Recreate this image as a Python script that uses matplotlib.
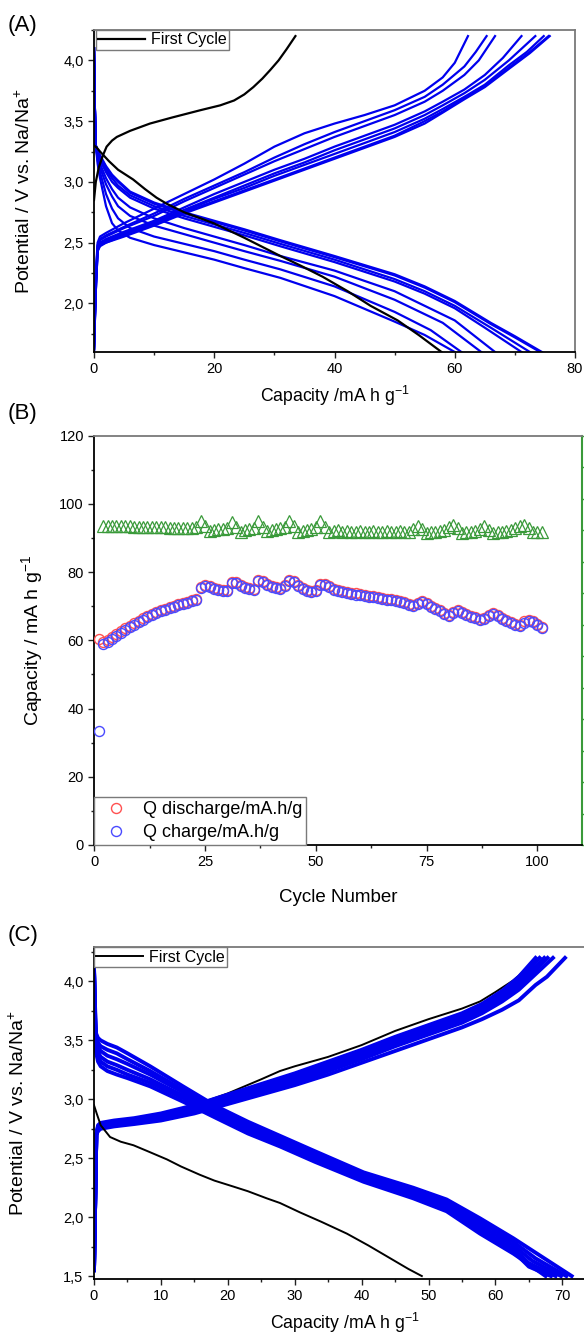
import matplotlib
matplotlib.use("Agg")
import matplotlib.pyplot as plt
from matplotlib.ticker import MultipleLocator, FuncFormatter, NullFormatter

plt.rcParams['font.family'] = ['Liberation Sans', 'DejaVu Sans']
plt.rcParams['mathtext.default'] = 'regular'

# ---------------- Panel A data ----------------
A_first_charge_cap = [0.0, 0.3, 0.8, 1.5, 2.1, 3.0, 3.8, 6.0, 9.3, 13.0, 17.7, 21.0, 23.3, 25.0, 26.5, 28.0, 29.3, 30.7, 32.0, 33.5]
A_first_charge_V = [2.85, 3.0, 3.12, 3.22, 3.29, 3.34, 3.37, 3.42, 3.48, 3.53, 3.59, 3.63, 3.67, 3.72, 3.78, 3.85, 3.92, 4.0, 4.09, 4.2]
A_first_dis_cap = [0.0, 0.5, 1.0, 2.5, 4.0, 6.5, 8.5, 10.4, 12.1, 15.0, 19.9, 25.0, 31.0, 34.4, 38.0, 42.2, 46.0, 50.5, 54.0, 57.8]
A_first_dis_V = [3.3, 3.28, 3.25, 3.17, 3.1, 3.02, 2.94, 2.87, 2.82, 2.75, 2.66, 2.54, 2.39, 2.31, 2.22, 2.1, 1.98, 1.86, 1.74, 1.6]

A_charge_cap = [0, 0.3, 0.6, 1, 2, 5, 10, 15, 20, 25, 30, 35, 40, 45, 50, 55]
A_charge_V = [
    [1.62, 2.25, 2.50, 2.55, 2.58, 2.66, 2.78, 2.90, 3.02, 3.15, 3.29, 3.40, 3.48, 3.55, 3.63, 3.75],
    [1.62, 2.20, 2.48, 2.53, 2.56, 2.63, 2.74, 2.86, 2.97, 3.08, 3.20, 3.31, 3.41, 3.50, 3.59, 3.70],
    [1.62, 2.20, 2.47, 2.52, 2.55, 2.62, 2.72, 2.84, 2.95, 3.06, 3.17, 3.27, 3.37, 3.46, 3.55, 3.66],
    [1.62, 2.15, 2.45, 2.50, 2.53, 2.59, 2.68, 2.79, 2.90, 3.00, 3.10, 3.19, 3.29, 3.38, 3.47, 3.58],
    [1.62, 2.15, 2.45, 2.50, 2.52, 2.58, 2.67, 2.77, 2.87, 2.97, 3.07, 3.16, 3.26, 3.35, 3.44, 3.55],
    [1.62, 2.10, 2.44, 2.49, 2.51, 2.57, 2.66, 2.76, 2.86, 2.95, 3.05, 3.14, 3.23, 3.32, 3.41, 3.52],
    [1.62, 2.10, 2.43, 2.48, 2.50, 2.56, 2.65, 2.75, 2.84, 2.93, 3.02, 3.11, 3.20, 3.29, 3.38, 3.50],
    [1.62, 2.10, 2.43, 2.47, 2.50, 2.55, 2.64, 2.74, 2.83, 2.92, 3.01, 3.10, 3.19, 3.28, 3.37, 3.48],
]
A_charge_tail_cap = [
    [58, 60, 62.2],
    [58, 61.6, 63.5, 65.3],
    [58, 61.6, 64, 66.7],
    [58, 61.6, 65, 68, 71.1],
    [58, 61.6, 65, 69, 73.4],
    [58, 61.6, 65, 69, 72, 74.8],
    [58, 61.6, 65, 69, 72.5, 75.6],
    [58, 61.6, 65, 69, 72.5, 75.8],
]
A_charge_tail_V = [
    [3.86, 3.98, 4.2],
    [3.80, 3.95, 4.07, 4.2],
    [3.75, 3.88, 4.0, 4.2],
    [3.66, 3.76, 3.88, 4.02, 4.2],
    [3.63, 3.73, 3.84, 4.0, 4.2],
    [3.60, 3.70, 3.80, 3.96, 4.07, 4.2],
    [3.58, 3.69, 3.79, 3.94, 4.07, 4.2],
    [3.57, 3.68, 3.78, 3.93, 4.06, 4.2],
]

A_dis_cap = [0, 0.15, 0.3, 0.6, 1, 2, 3, 4, 6, 10, 15, 20, 25, 31, 40, 50]
A_dis_V = [
    [4.1, 3.6, 3.3, 3.15, 3.03, 2.80, 2.66, 2.60, 2.54, 2.48, 2.42, 2.36, 2.29, 2.21, 2.06, 1.85],
    [4.1, 3.6, 3.3, 3.18, 3.08, 2.90, 2.78, 2.70, 2.62, 2.55, 2.49, 2.43, 2.36, 2.28, 2.14, 1.93],
    [4.1, 3.6, 3.3, 3.20, 3.12, 2.98, 2.88, 2.80, 2.72, 2.64, 2.57, 2.50, 2.43, 2.35, 2.22, 2.03],
    [4.1, 3.6, 3.3, 3.22, 3.15, 3.03, 2.94, 2.87, 2.79, 2.70, 2.62, 2.55, 2.48, 2.39, 2.27, 2.10],
    [4.1, 3.6, 3.3, 3.24, 3.18, 3.08, 3.00, 2.95, 2.87, 2.78, 2.70, 2.63, 2.56, 2.47, 2.34, 2.18],
    [4.1, 3.6, 3.3, 3.25, 3.20, 3.10, 3.03, 2.97, 2.89, 2.80, 2.72, 2.65, 2.58, 2.49, 2.36, 2.20],
    [4.1, 3.6, 3.3, 3.26, 3.21, 3.12, 3.05, 3.00, 2.91, 2.82, 2.74, 2.67, 2.60, 2.51, 2.38, 2.23],
    [4.1, 3.6, 3.3, 3.26, 3.22, 3.13, 3.06, 3.01, 2.92, 2.83, 2.75, 2.68, 2.61, 2.52, 2.39, 2.24],
]
A_dis_tail_cap = [
    [55, 60.0],
    [56, 61.1],
    [58, 64.4],
    [60, 66.7],
    [55, 60, 65, 71.1],
    [55, 60, 66, 72.5],
    [55, 60, 66, 70, 74.2],
    [55, 60, 66, 70, 74.5],
]
A_dis_tail_V = [
    [1.74, 1.6],
    [1.78, 1.6],
    [1.84, 1.6],
    [1.86, 1.6],
    [2.08, 1.96, 1.80, 1.6],
    [2.10, 1.98, 1.80, 1.6],
    [2.13, 2.01, 1.83, 1.72, 1.6],
    [2.14, 2.02, 1.84, 1.73, 1.6],
]

# ---------------- Panel B data ----------------
cycles = list(range(1, 102))
Q_discharge = [60.3, 59.6, 60.2, 61.0, 61.9, 62.7, 63.5, 64.3, 65.0, 65.7,
               66.4, 67.1, 67.7, 68.3, 68.8, 69.3, 69.7, 70.1, 70.5, 70.9,
               71.3, 71.7, 72.2, 75.7, 76.3, 75.9, 75.3, 74.9, 74.6, 74.8,
               77.0, 77.2, 76.2, 75.6, 75.3, 75.1, 77.6, 77.5, 76.6, 75.9,
               75.5, 75.4, 76.2, 77.8, 77.4, 76.3, 75.4, 74.8, 74.4, 74.6,
               76.5, 76.6, 75.8, 75.0, 74.6, 74.3, 74.1, 73.9, 73.7, 73.5,
               73.3, 73.1, 72.9, 72.6, 72.4, 72.2, 72.0, 71.7, 71.4, 71.1,
               70.7, 70.4, 71.0, 71.4, 70.8, 70.1, 69.4, 68.8, 67.9, 67.4,
               68.4, 68.9, 68.4, 67.8, 67.2, 66.7, 66.3, 66.5, 67.3, 67.9,
               67.3, 66.5, 65.9, 65.3, 64.7, 64.4, 65.5, 66.0, 65.7, 64.8,
               63.9]
Q_charge = [33.3, 58.8, 59.4, 60.3, 61.3, 62.1, 63.0, 63.8, 64.6, 65.3,
            66.0, 66.7, 67.3, 67.9, 68.5, 69.0, 69.4, 69.8, 70.2, 70.6,
            71.0, 71.4, 71.9, 75.3, 76.0, 75.6, 75.0, 74.6, 74.3, 74.5,
            76.7, 76.9, 75.9, 75.3, 75.0, 74.8, 77.3, 77.2, 76.3, 75.6,
            75.2, 75.1, 75.9, 77.5, 77.1, 76.0, 75.1, 74.5, 74.1, 74.3,
            76.2, 76.3, 75.5, 74.7, 74.3, 74.0, 73.8, 73.6, 73.4, 73.2,
            73.0, 72.8, 72.6, 72.3, 72.1, 71.9, 71.7, 71.4, 71.1, 70.8,
            70.4, 70.1, 70.7, 71.1, 70.5, 69.8, 69.1, 68.5, 67.6, 67.1,
            68.1, 68.6, 68.1, 67.5, 66.9, 66.4, 66.0, 66.2, 67.0, 67.6,
            67.0, 66.2, 65.6, 65.0, 64.4, 64.1, 65.2, 65.7, 65.4, 64.5,
            63.6]
eff_cycles = list(range(2, 102))
efficiency = [101.3, 101.4, 101.4, 101.3, 101.3, 101.2, 101.2, 101.1, 101.1, 101.0,
              101.0, 100.9, 100.9, 100.8, 100.8, 100.7, 100.7, 100.7, 100.6, 100.6,
              100.6, 100.8, 103.0, 101.4, 99.8, 100.0, 100.2, 100.4, 100.6, 102.6,
              101.0, 99.5, 99.9, 100.2, 100.5, 102.7, 101.0, 99.7, 100.0, 100.3,
              100.5, 100.8, 103.0, 101.3, 99.3, 99.8, 100.1, 100.3, 101.0, 102.8,
              101.0, 99.4, 99.8, 100.0, 99.5, 99.6, 99.5, 99.5, 99.6, 99.5,
              99.5, 99.6, 99.5, 99.5, 99.6, 99.5, 99.5, 99.6, 99.5, 99.5,
              100.2, 101.2, 100.3, 99.2, 99.4, 99.5, 99.6, 100.0, 101.0, 101.7,
              100.6, 99.2, 99.4, 99.5, 99.7, 100.4, 101.2, 100.0, 99.1, 99.3,
              99.5, 99.6, 100.0, 100.6, 101.2, 101.6, 100.5, 99.5, 99.3, 99.4]

# ---------------- Panel C data ----------------
C_first_charge_cap = [0.3, 0.5, 1, 3, 6, 10, 15, 20, 25, 27.8, 30, 35, 40, 45, 50, 55, 57.7, 60, 62.7, 64.5, 65.7]
C_first_charge_V = [2.72, 2.76, 2.78, 2.80, 2.82, 2.86, 2.95, 3.05, 3.17, 3.24, 3.28, 3.36, 3.46, 3.58, 3.68, 3.77, 3.83, 3.91, 4.01, 4.10, 4.17]
C_first_dis_cap = [0.0, 0.4, 1.0, 2.4, 4.0, 5.9, 8.0, 10.9, 13.0, 15.8, 18.0, 20.8, 23.0, 25.8, 27.8, 30.8, 34.0, 37.8, 41.0, 44.0, 47.0, 49.0]
C_first_dis_V = [2.95, 2.88, 2.78, 2.68, 2.64, 2.61, 2.56, 2.49, 2.43, 2.36, 2.31, 2.26, 2.22, 2.16, 2.12, 2.04, 1.96, 1.86, 1.76, 1.66, 1.56, 1.5]

C_charge_cap = [0.0, 0.2, 0.35, 0.6, 1, 3, 6, 10, 15, 20, 25, 30, 35, 40, 45, 50, 55, 58, 61, 63.5]
C_charge_V = [
    [1.55, 2.2, 2.70, 2.78, 2.80, 2.82, 2.84, 2.88, 2.95, 3.04, 3.13, 3.22, 3.32, 3.42, 3.53, 3.63, 3.73, 3.81, 3.92, 4.04],
    [1.55, 2.2, 2.70, 2.77, 2.79, 2.81, 2.83, 2.87, 2.94, 3.03, 3.12, 3.20, 3.30, 3.40, 3.51, 3.61, 3.71, 3.79, 3.90, 4.01],
    [1.55, 2.2, 2.70, 2.76, 2.78, 2.80, 2.82, 2.86, 2.92, 3.01, 3.10, 3.18, 3.28, 3.38, 3.49, 3.59, 3.69, 3.77, 3.87, 3.98],
    [1.55, 2.2, 2.70, 2.75, 2.77, 2.79, 2.81, 2.85, 2.91, 2.99, 3.08, 3.16, 3.26, 3.36, 3.47, 3.57, 3.67, 3.75, 3.85, 3.96],
    [1.55, 2.2, 2.70, 2.74, 2.76, 2.78, 2.80, 2.83, 2.90, 2.98, 3.06, 3.14, 3.24, 3.34, 3.45, 3.55, 3.65, 3.73, 3.83, 3.93],
    [1.55, 2.2, 2.70, 2.73, 2.75, 2.77, 2.79, 2.82, 2.88, 2.96, 3.04, 3.12, 3.21, 3.31, 3.41, 3.51, 3.61, 3.68, 3.76, 3.84],
]
C_charge_tail_cap = [[66.0], [66.6], [67.3], [67.8], [68.6], [66.0, 67.7, 70.4]]
C_charge_tail_V = [[4.2], [4.2], [4.2], [4.2], [4.2], [3.97, 4.04, 4.2]]

C_dis_cap = [0.0, 0.15, 0.3, 0.6, 1, 2, 3.4, 5, 8.4, 13.3, 18.3, 23, 27.8, 33, 40.3, 47.7, 52.7, 57.7, 62.7]
C_dis_V = [
    [4.12, 3.80, 3.56, 3.52, 3.50, 3.47, 3.44, 3.39, 3.28, 3.11, 2.94, 2.81, 2.69, 2.56, 2.38, 2.25, 2.15, 1.99, 1.82],
    [4.12, 3.75, 3.53, 3.48, 3.45, 3.42, 3.39, 3.34, 3.24, 3.08, 2.92, 2.79, 2.67, 2.54, 2.36, 2.23, 2.13, 1.96, 1.79],
    [4.10, 3.70, 3.50, 3.44, 3.41, 3.37, 3.34, 3.30, 3.21, 3.06, 2.90, 2.77, 2.65, 2.52, 2.34, 2.21, 2.11, 1.93, 1.76],
    [4.10, 3.65, 3.46, 3.40, 3.36, 3.32, 3.29, 3.25, 3.17, 3.03, 2.88, 2.75, 2.63, 2.50, 2.33, 2.19, 2.09, 1.90, 1.73],
    [4.10, 3.60, 3.43, 3.36, 3.32, 3.28, 3.25, 3.21, 3.14, 3.01, 2.86, 2.73, 2.61, 2.48, 2.31, 2.17, 2.07, 1.88, 1.71],
    [4.10, 3.55, 3.40, 3.32, 3.28, 3.24, 3.21, 3.18, 3.11, 2.98, 2.84, 2.71, 2.60, 2.47, 2.30, 2.16, 2.05, 1.86, 1.69],
]
C_dis_tail_cap = [[66.5, 71.4], [66.0, 70.6], [65.5, 69.8], [65.0, 69.0], [65.0, 68.3], [65.0, 67.5]]
C_dis_tail_V = [[1.68, 1.5], [1.65, 1.5], [1.63, 1.5], [1.61, 1.5], [1.58, 1.5], [1.60, 1.5]]

BLUE = '#0000ee'
GRAY = '#7a7a7a'
TICK_FS = 10.5
XLABEL_FS = 12.7
YLABEL_FS = 14

fig = plt.figure(figsize=(5.84, 13.34), dpi=100)
W, H = 584.0, 1334.0


def box(l, t, r, b):
    return [l / W, 1 - b / H, (r - l) / W, (b - t) / H]


comma = FuncFormatter(lambda v, p: ('%.1f' % v).replace('.', ','))


def style(ax, right_color=GRAY):
    for s in ['left', 'bottom']:
        ax.spines[s].set_color('black')
        ax.spines[s].set_linewidth(1.3)
    ax.spines['top'].set_color(GRAY)
    ax.spines['top'].set_linewidth(1.3)
    ax.spines['right'].set_color(right_color)
    ax.spines['right'].set_linewidth(1.3)
    ax.tick_params(which='both', direction='out', top=False, right=False,
                   labelsize=TICK_FS, width=1.0, color='#222222', pad=3)
    ax.tick_params(which='major', length=4.5)
    ax.tick_params(which='minor', length=2.5)


# ---------------- Panel A ----------------
axA = fig.add_axes(box(94, 30, 575, 352))
for i in range(len(A_charge_V)):
    axA.plot(A_charge_cap + A_charge_tail_cap[i], A_charge_V[i] + A_charge_tail_V[i],
             color=BLUE, lw=1.6, solid_joinstyle='round')
    axA.plot(A_dis_cap + A_dis_tail_cap[i], A_dis_V[i] + A_dis_tail_V[i],
             color=BLUE, lw=1.6, solid_joinstyle='round')
lA, = axA.plot(A_first_charge_cap, A_first_charge_V, color='black', lw=1.6, label='First Cycle')
axA.plot(A_first_dis_cap, A_first_dis_V, color='black', lw=1.6)
axA.set_xlim(0, 80)
axA.set_ylim(1.6, 4.25)
axA.xaxis.set_major_locator(MultipleLocator(20))
axA.xaxis.set_minor_locator(MultipleLocator(10))
axA.yaxis.set_major_locator(MultipleLocator(0.5))
axA.yaxis.set_minor_locator(MultipleLocator(0.25))
axA.yaxis.set_major_formatter(comma)
style(axA)
axA.set_xlabel('Capacity /mA h g$^{-1}$', fontsize=XLABEL_FS)
axA.xaxis.set_label_coords(0.5, -0.1)
axA.set_ylabel('Potential / V vs. Na/Na$^{+}$', fontsize=YLABEL_FS)
axA.yaxis.set_label_coords(-0.125, 0.5)
legA = axA.legend(handles=[lA], loc='upper left', bbox_to_anchor=(0.004, 1.0), borderaxespad=0,
                  fancybox=False, edgecolor=GRAY, framealpha=1, fontsize=11.5,
                  handlelength=2.9, borderpad=0.15, handletextpad=0.4)
legA.get_frame().set_linewidth(1.0)

# ---------------- Panel B ----------------
axB = fig.add_axes(box(94.3, 435.5, 581.7, 845))
axB2 = axB.twinx()
axB2.plot(eff_cycles, efficiency, '^', mfc='none', mec='#3a9a3a', ms=8.5, mew=0.9, zorder=2)
axB.plot(cycles, Q_discharge, 'o', mfc='none', mec='#ff5050', ms=7.2, mew=1.0,
         label='Q discharge/mA.h/g', zorder=3)
axB.plot(cycles, Q_charge, 'o', mfc='none', mec='#4a4aff', ms=7.2, mew=1.0,
         label='Q charge/mA.h/g', zorder=4)
axB.set_xlim(0, 110)
axB.set_ylim(0, 120)
axB.xaxis.set_major_locator(MultipleLocator(25))
axB.xaxis.set_minor_locator(MultipleLocator(12.5))
axB.yaxis.set_major_locator(MultipleLocator(20))
axB.yaxis.set_minor_locator(MultipleLocator(10))
style(axB, right_color='none')
axB.set_xlabel('Cycle Number', fontsize=13.5)
axB.xaxis.set_label_coords(0.5, -0.108)
axB.set_ylabel('Capacity / mA h g$^{-1}$', fontsize=YLABEL_FS)
axB.yaxis.set_label_coords(-0.101, 0.5)
axB2.set_ylim(0, 130)
axB2.yaxis.set_major_locator(MultipleLocator(10))
axB2.yaxis.set_major_formatter(NullFormatter())
axB2.tick_params(axis='y', direction='out', length=4.5, width=1.0, color='#3a9a3a')
for s in ['left', 'top', 'bottom']:
    axB2.spines[s].set_visible(False)
axB2.spines['right'].set_color('#3a9a3a')
axB2.spines['right'].set_linewidth(1.5)
axB.set_zorder(axB2.get_zorder() + 1)
axB.patch.set_visible(False)
legB = axB.legend(loc='lower left', bbox_to_anchor=(0.0, 0.0), borderaxespad=0,
                  fancybox=False, edgecolor=GRAY, framealpha=1, fontsize=13,
                  handlelength=2.0, borderpad=0.2, handletextpad=0.5, labelspacing=0.35)
legB.get_frame().set_linewidth(1.0)

# ---------------- Panel C ----------------
axC = fig.add_axes(box(94, 947.3, 595.75, 1279))
for i in range(len(C_charge_V)):
    axC.plot(C_charge_cap + C_charge_tail_cap[i], C_charge_V[i] + C_charge_tail_V[i],
             color=BLUE, lw=2.8, solid_joinstyle='round')
    axC.plot(C_dis_cap + C_dis_tail_cap[i], C_dis_V[i] + C_dis_tail_V[i],
             color=BLUE, lw=2.8, solid_joinstyle='round')
lC, = axC.plot(C_first_charge_cap, C_first_charge_V, color='black', lw=1.4, label='First Cycle', zorder=1)
axC.plot(C_first_dis_cap, C_first_dis_V, color='black', lw=1.4)
axC.set_xlim(0, 75)
axC.set_ylim(1.475, 4.29)
axC.xaxis.set_major_locator(MultipleLocator(10))
axC.xaxis.set_minor_locator(MultipleLocator(5))
axC.yaxis.set_major_locator(MultipleLocator(0.5))
axC.yaxis.set_minor_locator(MultipleLocator(0.25))
axC.yaxis.set_major_formatter(comma)
style(axC)
axC.set_xlabel('Capacity /mA h g$^{-1}$', fontsize=XLABEL_FS)
axC.xaxis.set_label_coords(0.5, -0.095)
axC.set_ylabel('Potential / V vs. Na/Na$^{+}$', fontsize=YLABEL_FS)
axC.yaxis.set_label_coords(-0.133, 0.5)
legC = axC.legend(handles=[lC], loc='upper left', bbox_to_anchor=(0.0, 1.0), borderaxespad=0,
                  fancybox=False, edgecolor=GRAY, framealpha=1, fontsize=11.5,
                  handlelength=2.9, borderpad=0.15, handletextpad=0.4)
legC.get_frame().set_linewidth(1.0)

# panel labels
fig.text(8 / W, 1 - 25 / H, '(A)', fontsize=16, va='center', ha='left')
fig.text(8 / W, 1 - 413 / H, '(B)', fontsize=16, va='center', ha='left')
fig.text(8 / W, 1 - 935 / H, '(C)', fontsize=16, va='center', ha='left')

fig.savefig('out.png', dpi=100)
